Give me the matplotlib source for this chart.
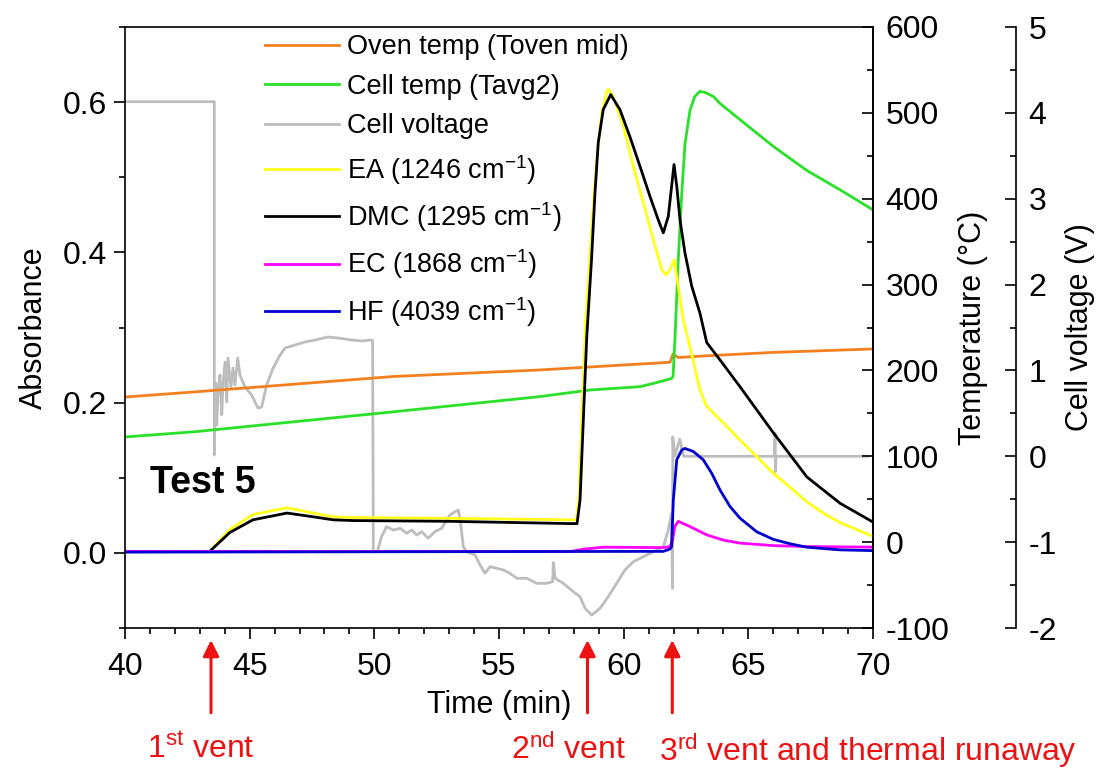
import matplotlib
matplotlib.use('Agg')
import matplotlib.pyplot as plt
from matplotlib.ticker import MultipleLocator

plt.rcParams['font.family'] = ['Liberation Sans', 'DejaVu Sans']
plt.rcParams['mathtext.fontset'] = 'custom'
plt.rcParams['mathtext.rm'] = 'Liberation Sans'
plt.rcParams['mathtext.it'] = 'Liberation Sans'
plt.rcParams['mathtext.bf'] = 'Liberation Sans:bold'
plt.rcParams['axes.unicode_minus'] = False

# --- data (time in min) ---
oven_t = [40, 42.8, 50.8, 56.6, 61.86, 61.98, 62.19, 63.3, 66.0, 70]
oven_T = [169, 175, 193, 200.5, 209.5, 219, 215, 217, 221, 225]

cell_t = [40, 42.8, 50.8, 56.6, 58.65, 60.66, 61.46, 61.93, 61.98, 62.06, 62.19,
          62.33, 62.46, 62.66, 62.85, 63.05, 63.25, 63.6, 63.86, 64.67, 66.0, 67.34, 68.7, 70]
cell_T = [122.5, 128.6, 151.9, 169.4, 177.2, 181.1, 186.9, 190.8, 193, 239, 329,
          406, 464, 503, 519, 525, 524, 519, 511, 492, 461, 433, 410, 387]

volt_t = [40, 43.58, 43.58, 43.64, 43.68, 43.73, 43.81, 43.88, 43.93, 44.01, 44.08,
          44.13, 44.25, 44.33, 44.41, 44.52, 44.61, 44.81, 45.08, 45.33, 45.48, 45.68,
          45.94, 46.22, 46.42, 46.82, 47.22, 47.62, 48.14, 48.54, 49.10, 49.51, 49.83,
          49.93, 49.96, 50.12, 50.29, 50.49, 50.76, 51.03, 51.30, 51.50, 51.70, 51.90,
          52.16, 52.43, 52.70, 53.03, 53.24, 53.37, 53.46, 53.57, 53.70, 54.04, 54.24,
          54.44, 54.64, 54.91, 55.17, 55.44, 55.71, 56.11, 56.51, 56.91, 57.15, 57.18,
          57.25, 57.58, 57.98, 58.25, 58.45, 58.72, 59.05, 59.38, 59.72, 60.05, 60.39,
          60.79, 61.19, 61.59, 61.79, 61.92, 61.96, 61.97, 62.05, 62.25, 62.4, 63.5,
          66.05, 66.07, 66.09, 66.11, 69.8]
volt_V = [4.13, 4.13, 0.015, 0.854, 0.364, 0.749, 0.947, 0.481, 0.830, 1.098, 0.632,
          1.145, 0.795, 1.028, 0.830, 1.145, 0.947, 0.807, 0.714, 0.562, 0.574, 0.830,
          1.028, 1.180, 1.261, 1.296, 1.331, 1.354, 1.389, 1.378, 1.354, 1.343, 1.354,
          1.35, -1.111, -1.111, -0.936, -0.820, -0.859, -0.839, -0.897, -0.859, -0.917, -0.878,
          -0.955, -0.878, -0.839, -0.684, -0.645, -0.626, -0.781, -1.053, -1.111, -1.150, -1.266,
          -1.363, -1.286, -1.305, -1.324, -1.363, -1.421, -1.421, -1.480, -1.480, -1.460, -1.239,
          -1.421, -1.480, -1.577, -1.635, -1.771, -1.849, -1.771, -1.635, -1.480, -1.324, -1.228,
          -1.169, -1.111, -1.053, -0.859, -0.664, -1.537, 0.225, 0.0, 0.2, 0.0, 0.0,
          0.0, 0.27, -0.18, 0.0, 0.0]

ea_t = [40, 43.4, 44.2, 45.13, 46.5, 47.55, 48.35, 49.15, 53, 57.85, 58.1, 58.2, 58.3,
        58.45, 58.72, 58.92, 59.12, 59.32, 59.38, 59.58, 59.99, 60.39, 60.79, 61.19,
        61.53, 61.70, 61.86, 62.02, 62.19, 62.39, 62.59, 63.06, 63.33, 64.0, 64.67,
        65.34, 66.0, 66.69, 67.34, 68.0, 68.7, 70]
ea_A = [0.002, 0.002, 0.031, 0.051, 0.060, 0.053, 0.048, 0.047, 0.046, 0.044, 0.044, 0.07, 0.16,
        0.29, 0.434, 0.523, 0.585, 0.614, 0.617, 0.608, 0.568, 0.514, 0.466, 0.417,
        0.377, 0.370, 0.377, 0.390, 0.355, 0.310, 0.284, 0.217, 0.195, 0.173, 0.150,
        0.128, 0.106, 0.087, 0.068, 0.053, 0.040, 0.022]

dmc_t = [40, 43.4, 44.2, 45.13, 46.5, 47.55, 48.35, 49.15, 53, 57.85, 58.13, 58.25,
         58.52, 58.71, 58.85, 58.98, 59.18, 59.48, 59.85, 60.25, 60.66, 61.06, 61.39,
         61.59, 61.79, 62.02, 62.13, 62.26, 62.46, 62.73, 63.06, 63.33, 63.86, 64.67,
         66.0, 67.35, 68.68, 70]
dmc_A = [0.002, 0.002, 0.027, 0.044, 0.053, 0.048, 0.044, 0.043, 0.042, 0.039, 0.039, 0.07,
         0.288, 0.39, 0.479, 0.546, 0.590, 0.610, 0.590, 0.554, 0.514, 0.474, 0.443,
         0.426, 0.448, 0.517, 0.488, 0.443, 0.399, 0.355, 0.319, 0.28, 0.257, 0.221,
         0.16, 0.101, 0.066, 0.041]

ec_t = [40, 57.9, 58.4, 59.2, 61.5, 61.85, 61.95, 62.05, 62.19, 62.66, 63.33, 64.0,
        64.67, 66.0, 67.34, 70]
ec_A = [0.002, 0.002, 0.005, 0.0076, 0.007, 0.008, 0.015, 0.035, 0.042, 0.035, 0.024, 0.017,
        0.013, 0.0097, 0.0084, 0.0076]

hf_t = [40, 61.59, 61.85, 61.92, 61.99, 62.13, 62.33, 62.46, 62.79, 63.19, 63.53,
        63.86, 64.26, 64.67, 65.34, 66.0, 66.69, 67.34, 68.68, 70]
hf_A = [0.001, 0.002, 0.005, 0.008, 0.07, 0.124, 0.137, 0.139, 0.135, 0.124, 0.106,
        0.084, 0.062, 0.046, 0.028, 0.018, 0.012, 0.0076, 0.004, 0.003]

vent_times = [43.45, 58.55, 61.95]
vent_labels = [r'1$^{\mathrm{st}}$ vent', r'2$^{\mathrm{nd}}$ vent',
               r'3$^{\mathrm{rd}}$ vent and thermal runaway']
vent_label_x = [43.05, 57.8, 69.8]

TICK_FS = 23
LAB_FS = 22
LEG_FS = 19.5
RED = '#EE1111'

fig = plt.figure(figsize=(11.02, 7.75), dpi=100)
ax = fig.add_axes([125 / 1102, 1 - 628 / 775, 748 / 1102, 601 / 775])
ax2 = ax.twinx()
ax3 = ax.twinx()

# absorbance on top, then temperature, voltage at the back
ax.set_zorder(3)
ax2.set_zorder(2)
ax3.set_zorder(1)
for a in (ax, ax2, ax3):
    a.patch.set_visible(False)

lw = 2.0
lv, = ax3.plot(volt_t, volt_V, color='#BDBDBD', lw=2.0, label='Cell voltage')
lo, = ax2.plot(oven_t, oven_T, color='#F47F1F', lw=lw, label='Oven temp (Toven mid)')
lc, = ax2.plot(cell_t, cell_T, color='#2BE02B', lw=lw, label='Cell temp (Tavg2)')
lea, = ax.plot(ea_t, ea_A, color='#FFFF1A', lw=lw, label=r'EA (1246 cm$^{-1}$)')
ldmc, = ax.plot(dmc_t, dmc_A, color='black', lw=lw, label=r'DMC (1295 cm$^{-1}$)')
lec, = ax.plot(ec_t, ec_A, color='#FF00FF', lw=lw, label=r'EC (1868 cm$^{-1}$)')
lhf, = ax.plot(hf_t, hf_A, color='#0000D0', lw=lw, label=r'HF (4039 cm$^{-1}$)')

# main axes
ax.set_xlim(40, 70)
ax.set_ylim(-0.1, 0.7)
ax.xaxis.set_major_locator(MultipleLocator(5))
ax.xaxis.set_minor_locator(MultipleLocator(1))
ax.yaxis.set_minor_locator(MultipleLocator(0.1))
ax.set_yticks([0.0, 0.2, 0.4, 0.6])
ax.set_yticklabels(['0.0', '0.2', '0.4', '0.6'])
ax.tick_params(axis='both', which='major', direction='out', length=8, width=1.2,
               labelsize=TICK_FS, top=False, right=False)
ax.tick_params(axis='both', which='minor', direction='out', length=4.5, width=1.2,
               top=False, right=False)
ax.tick_params(axis='x', which='major', pad=9)
ax.tick_params(axis='y', which='major', pad=5)
ax.set_xlabel('Time (min)', fontsize=LAB_FS, labelpad=6)
ax.set_ylabel('Absorbance', fontsize=LAB_FS, labelpad=10)
for s in ax.spines.values():
    s.set_linewidth(1.2)

# temperature axis
ax2.set_ylim(-100, 600)
ax2.yaxis.set_major_locator(MultipleLocator(100))
ax2.yaxis.set_minor_locator(MultipleLocator(50))
ax2.tick_params(axis='y', which='major', direction='in', length=8, width=1.2,
                labelsize=TICK_FS, pad=9)
ax2.tick_params(axis='y', which='minor', direction='in', length=4.5, width=1.2)
ax2.set_ylabel('Temperature (°C)', fontsize=LAB_FS, labelpad=6)
for name, s in ax2.spines.items():
    s.set_visible(name == 'right')
    s.set_linewidth(1.2)

# voltage axis
ax3.spines['right'].set_position(('axes', 1.191))
ax3.set_ylim(-2, 5)
ax3.yaxis.set_major_locator(MultipleLocator(1))
ax3.yaxis.set_minor_locator(MultipleLocator(0.5))
ax3.tick_params(axis='y', which='major', direction='in', length=8, width=1.2,
                labelsize=TICK_FS, pad=9)
ax3.tick_params(axis='y', which='minor', direction='in', length=4.5, width=1.2)
ax3.set_ylabel('Cell voltage (V)', fontsize=LAB_FS, labelpad=6)
for name, s in ax3.spines.items():
    s.set_visible(name == 'right')
    s.set_linewidth(1.2)

ax.legend(handles=[lo, lc, lv, lea, ldmc, lec, lhf], loc='upper left',
          bbox_to_anchor=(0.187, 0.988), frameon=False, fontsize=LEG_FS,
          handlelength=2.75, handletextpad=0.3, labelspacing=0.5,
          borderpad=0, borderaxespad=0)

ax.text(41.0, 0.093, 'Test 5', fontsize=27, fontweight='bold', va='center', ha='left')

# vent arrows below the time axis
for t in vent_times:
    ax.annotate('', xy=(t, -0.02), xycoords=('data', 'axes fraction'),
                xytext=(t, -0.141), textcoords=('data', 'axes fraction'),
                arrowprops=dict(arrowstyle='-|>', color=RED, lw=2.2,
                                mutation_scale=24, shrinkA=0, shrinkB=0),
                annotation_clip=False)
for x, lab in zip(vent_label_x, vent_labels):
    ax.text(x, -0.203, lab, transform=ax.get_xaxis_transform(), color=RED,
            fontsize=23, ha='center', va='center', clip_on=False)

fig.savefig('out.png', dpi=100)
